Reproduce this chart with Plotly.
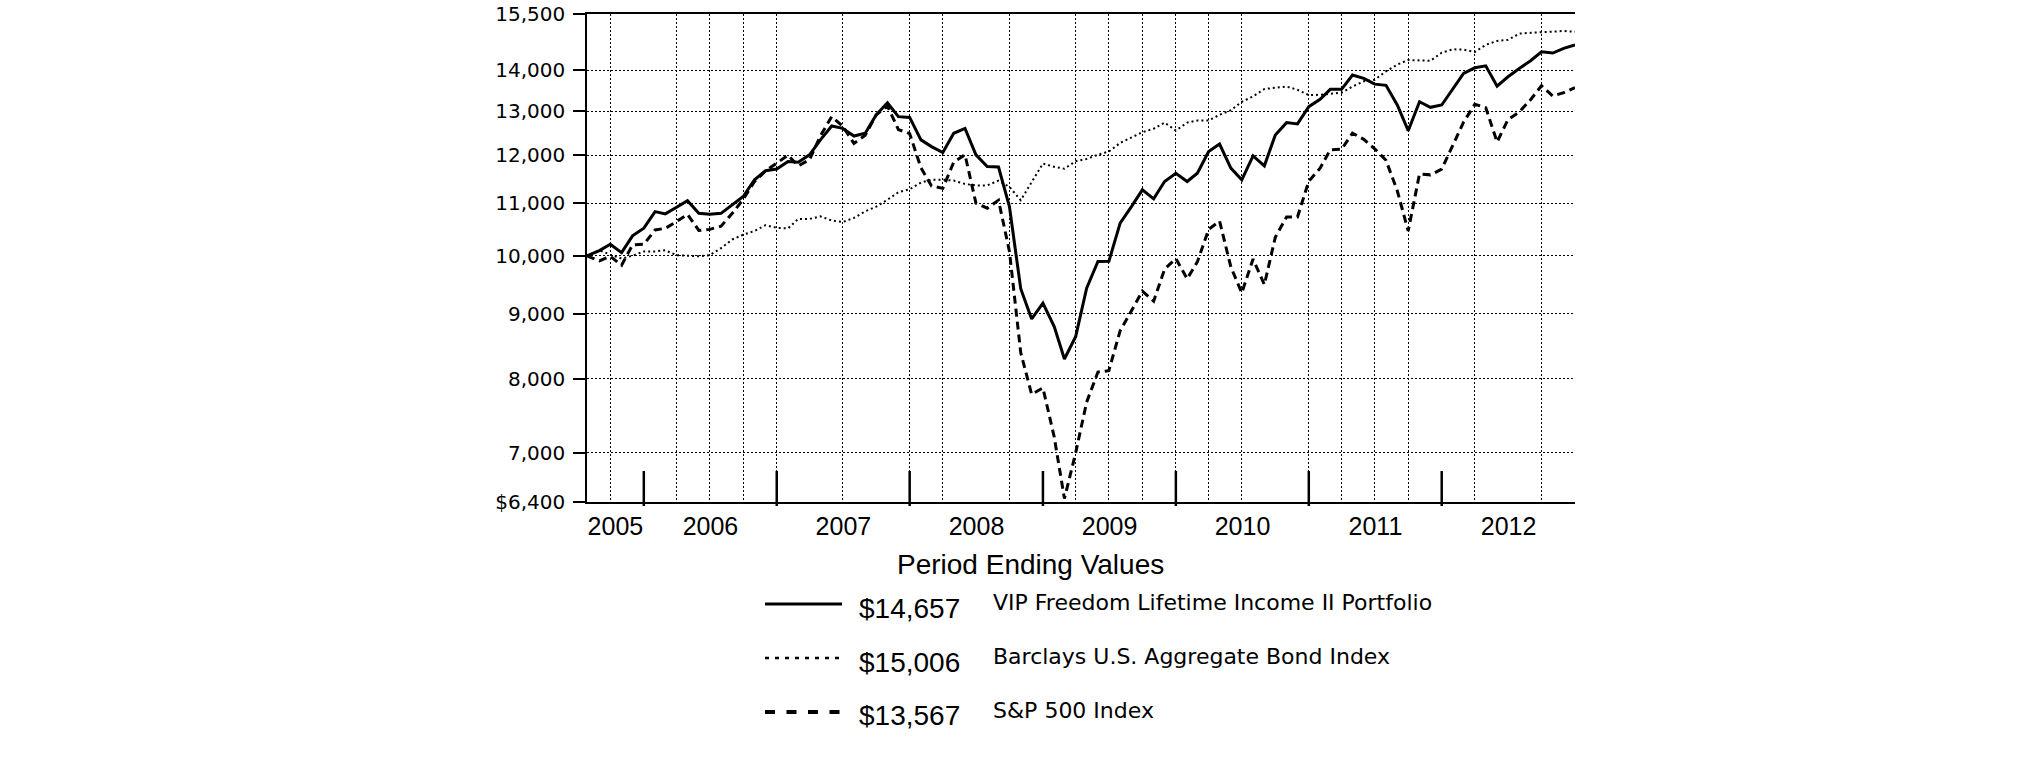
import math
import pandas as pd
import plotly.graph_objects as go

# ---------------- data ----------------
start_date = "2005-07-28"
month_ends = pd.date_range("2005-08-31", "2012-12-31", freq="ME")
dates = [start_date] + [d.strftime("%Y-%m-%d") for d in month_ends]

portfolio = [
    10000, 10095, 10212, 10058, 10368, 10513,
    10834, 10789, 10920, 11050, 10801, 10780, 10800, 10966, 11133, 11477, 11666, 11702,
    11864, 11850, 12008, 12338, 12653, 12598, 12424, 12487, 12908, 13197, 12868, 12850,
    12338, 12188, 12057, 12487, 12598, 12008, 11758, 11745, 10932, 9420, 8918, 9178,
    8797, 8294, 8640, 9430, 9897, 9900, 10609, 10932, 11270, 11087, 11441, 11614,
    11441, 11614, 12078, 12246, 11722, 11477, 11984, 11770, 12448, 12730, 12700, 13103,
    13279, 13522, 13522, 13875, 13792, 13650, 13620, 13143, 12545, 13221, 13088, 13143,
    13546, 13919, 14060, 14110, 13601, 13833, 14044, 14240, 14474, 14440, 14563, 14657,
]

bond = [
    10000, 10100, 10020, 9950, 10000, 10080,
    10080, 10100, 10010, 10000, 9990, 10010, 10140, 10300, 10390, 10460, 10570, 10520,
    10510, 10690, 10690, 10740, 10660, 10630, 10710, 10840, 10930, 11070, 11220, 11280,
    11420, 11480, 11480, 11460, 11390, 11360, 11360, 11460, 11330, 11060, 11430, 11820,
    11750, 11710, 11870, 11920, 12010, 12080, 12270, 12390, 12510, 12590, 12730, 12550,
    12730, 12780, 12780, 12910, 13020, 13220, 13350, 13530, 13560, 13590, 13510, 13380,
    13390, 13420, 13440, 13590, 13720, 13760, 13970, 14140, 14260, 14250, 14240, 14450,
    14540, 14530, 14470, 14660, 14760, 14790, 14960, 14980, 15000, 15020, 15030, 15006,
]

sp500 = [
    10000, 9910, 9990, 9830, 10200, 10210,
    10480, 10510, 10640, 10780, 10470, 10490, 10550, 10800, 11080, 11440, 11660, 11820,
    12000, 11770, 11900, 12430, 12870, 12650, 12260, 12440, 12910, 13120, 12570, 12480,
    11730, 11350, 11300, 11850, 12010, 11000, 10900, 11060, 10080, 8390, 7780, 7870,
    7200, 6440, 7000, 7670, 8100, 8120, 8730, 9050, 9380, 9210, 9760, 9950,
    9590, 9890, 10490, 10650, 9800, 9350, 9940, 9490, 10340, 10730, 10730, 11450,
    11720, 12120, 12130, 12490, 12350, 12140, 11890, 11250, 10460, 11600, 11580, 11700,
    12220, 12740, 13160, 13080, 12290, 12800, 12980, 13270, 13610, 13360, 13440, 13567,
]

series_names = [
    "VIP Freedom Lifetime Income II Portfolio",
    "Barclays U.S. Aggregate Bond Index",
    "S&P 500 Index",
]
ending_values = ["$14,657", "$15,006", "$13,567"]
legend_title = "Period Ending Values"

y_tick_values = [6400, 7000, 8000, 9000, 10000, 11000, 12000, 13000, 14000, 15500]
y_tick_labels = ["$6,400", "7,000", "8,000", "9,000", "10,000", "11,000",
                 "12,000", "13,000", "14,000", "15,500"]

years = [2005, 2006, 2007, 2008, 2009, 2010, 2011, 2012]
year_labels = [str(y) for y in years]
grid_dates = [
    "2005-09-30", "2006-03-31", "2006-06-30", "2006-09-30", "2006-12-31",
    "2007-06-30", "2007-12-31", "2008-03-31", "2008-09-30", "2009-03-31",
    "2009-06-30", "2009-09-30", "2009-12-31", "2010-03-31", "2010-06-30",
    "2010-12-31", "2011-03-31", "2011-06-30", "2011-09-30", "2012-03-31",
    "2012-09-30",
]
end_date = "2012-12-31"

# ---------------- layout geometry ----------------
W, H = 2025, 761
L, R, T, B = 587, 450, 14, 259
PW, PH = W - L - R, H - T - B

def px_x(px):
    return (px - L) / PW

def px_y(py):
    return (H - B - py) / PH

ARIAL = "Liberation Sans, Arial, sans-serif"
WIDE = "DejaVu Sans, sans-serif"

line_styles = [
    dict(color="black", width=3, dash="solid"),
    dict(color="black", width=2, dash="2px,3px"),
    dict(color="black", width=3, dash="8px,5px"),
]
legend_styles = [
    dict(color="black", width=3, dash="solid"),
    dict(color="black", width=2.5, dash="4px,6px"),
    dict(color="black", width=4, dash="10px,11.5px"),
]

fig = go.Figure()
order = [1, 2, 0]
all_values = [portfolio, bond, sp500]
for i in order:
    fig.add_trace(go.Scatter(
        x=dates, y=all_values[i], mode="lines", name=series_names[i],
        line=line_styles[i], showlegend=False, hoverinfo="skip",
    ))

# year label positions (centre of each visible year span)
mid_dates = []
for y in years:
    a = pd.Timestamp(max(pd.Timestamp(f"{y}-01-01"), pd.Timestamp(start_date)))
    b = pd.Timestamp(f"{y}-12-31")
    mid_dates.append((a + (b - a) / 2).strftime("%Y-%m-%d %H:%M"))

# invisible trace that carries the year-label axis
fig.add_trace(go.Scatter(x=[start_date, end_date], y=[10000, 10000], xaxis="x2",
                         mode="lines", line=dict(width=0), showlegend=False,
                         hoverinfo="skip", opacity=0))

fig.update_layout(
    width=W, height=H, autosize=False,
    margin=dict(l=L, r=R, t=T, b=B, pad=0),
    paper_bgcolor="white", plot_bgcolor="white",
    font=dict(family=ARIAL, color="black"),
    xaxis=dict(
        type="date", range=[start_date, end_date], automargin=False,
        showline=True, mirror=True, linecolor="black", linewidth=1.5,
        ticks="", showticklabels=False, tickvals=grid_dates,
        showgrid=True, gridcolor="black", gridwidth=1, griddash="2px,2px",
        zeroline=False,
    ),
    xaxis2=dict(
        type="date", range=[start_date, end_date], overlaying="x", anchor="y",
        side="bottom", showline=False, showgrid=False, ticks="", automargin=False,
        tickvals=mid_dates, ticktext=year_labels, ticklabelstandoff=7,
        tickfont=dict(family=ARIAL, size=25, color="black"),
    ),
    yaxis=dict(
        type="log", range=[math.log10(6400), math.log10(15500)], automargin=False,
        showline=True, linecolor="black", linewidth=1.5,
        ticks="outside", ticklen=12, tickwidth=2, tickcolor="black",
        tickvals=y_tick_values, ticktext=y_tick_labels,
        tickfont=dict(family=WIDE, size=20, color="black"),
        ticklabelstandoff=4,
        showgrid=True, gridcolor="black", gridwidth=1, griddash="2px,2px",
        zeroline=False,
    ),
)

# year boundary marks
for y in years[:-1]:
    fig.add_shape(type="line", xref="x", x0=f"{y}-12-31", x1=f"{y}-12-31",
                  yref="paper", ysizemode="pixel", yanchor=0, y0=-4, y1=31,
                  line=dict(color="black", width=2.5))

# legend block
annotations = [dict(text=legend_title, x=px_x(1030), y=px_y(564), xref="paper", yref="paper",
                    xanchor="center", yanchor="middle", showarrow=False,
                    font=dict(family=ARIAL, size=28, color="black"))]
for k in range(3):
    dy = 54 * k
    fig.add_shape(type="line", xref="paper", yref="paper",
                  x0=px_x(765), x1=px_x(842), y0=px_y(604 + dy), y1=px_y(604 + dy),
                  line=legend_styles[k])
    annotations.append(dict(text=ending_values[k], x=px_x(857), y=px_y(608 + dy),
                            xref="paper", yref="paper", xanchor="left", yanchor="middle",
                            showarrow=False, font=dict(family=ARIAL, size=28, color="black")))
    annotations.append(dict(text=series_names[k].replace("&", "&amp;"), x=px_x(991), y=px_y(602 + dy),
                            xref="paper", yref="paper", xanchor="left", yanchor="middle",
                            showarrow=False, font=dict(family=WIDE, size=22, color="black")))
fig.update_layout(annotations=annotations)

fig.write_html("out.html", config={"displayModeBar": False},
               post_script="document.body.style.margin='0px';")
